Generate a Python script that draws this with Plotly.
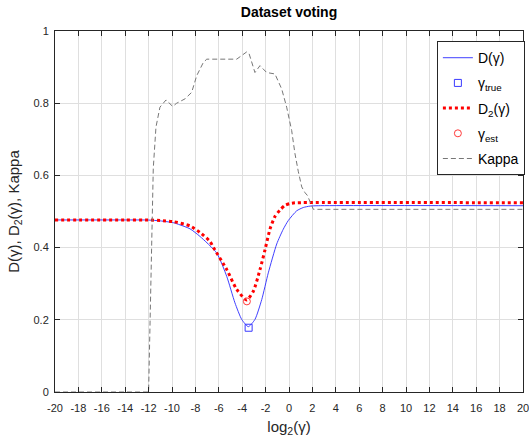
import plotly.graph_objects as go

# Kappa (gray dashed)
kappa_x = [-20, -12, -11.6, -11.37, -11.03, -10.51, -9.94, -9.6, -8.89, -8.32, -7.89, -7.32,
           -7.03, -4.47, -3.62, -3.42, -2.91, -2.48, -1.91, -1.2, -0.62, -0.2, 0.23, 0.51,
           0.8, 1.09, 1.37, 1.56, 1.86, 2.08, 20]
kappa_y = [0, 0, 0.62, 0.734, 0.789, 0.809, 0.791, 0.80, 0.812, 0.83, 0.876, 0.913,
           0.922, 0.922, 0.942, 0.938, 0.885, 0.904, 0.885, 0.881, 0.839, 0.789, 0.724, 0.66,
           0.61, 0.568, 0.552, 0.545, 0.523, 0.506, 0.506]

# D(gamma) (blue solid)
d_x = [-20, -14, -12, -11, -9.89, -9.32, -8.46, -7.61, -6.18, -5.32, -4.62, -4.04, -3.48,
       -2.91, -2.33, -1.77, -1.05, -0.49, -0.06, 0.66, 1.22, 1.8, 2.5, 20]
d_y = [0.4766, 0.4766, 0.4763, 0.474, 0.469, 0.463, 0.452, 0.431, 0.385, 0.320, 0.247, 0.201, 0.181,
       0.201, 0.256, 0.330, 0.410, 0.451, 0.475, 0.502, 0.511, 0.515, 0.516, 0.516]

# D2(gamma) (red dotted)
d2_x = [-20, -14, -12, -11, -9.89, -8.46, -7.61, -6.75, -6.47, -5.32, -4.47, -3.62, -3.05,
        -2.48, -2.05, -1.62, -1.2, -0.77, -0.34, 0.09, 0.5, 20]
d2_y = [0.4766, 0.4766, 0.4765, 0.475, 0.472, 0.460, 0.442, 0.417, 0.401, 0.339, 0.284, 0.255, 0.279,
        0.339, 0.394, 0.452, 0.486, 0.504, 0.517, 0.522, 0.524, 0.524]

gamma_true = [-3.45]
gamma_true_val = [0.178]
gamma_est = [-3.6]
gamma_est_val = [0.251]

x_ticks = list(range(-20, 21, 2))
x_tick_labels = [str(v) for v in x_ticks]
y_ticks = [0, 0.2, 0.4, 0.6, 0.8, 1]
y_tick_labels = ["0", "0.2", "0.4", "0.6", "0.8", "1"]

fig = go.Figure()
fig.add_trace(go.Scatter(x=d_x, y=d_y, mode="lines", name="D(γ)", legendgroup="a",
                         line=dict(color="#2a2aff", width=0.9, shape="spline", smoothing=0.6)))
fig.add_trace(go.Scatter(x=gamma_true, y=gamma_true_val, mode="markers", name="γ<sub>true</sub>",
                         legendgroup="b",
                         marker=dict(symbol="square-open", size=7, color="#3a3aff", line=dict(width=1))))
fig.add_trace(go.Scatter(x=d2_x, y=d2_y, mode="lines", name="D<sub>2</sub>(γ)", legendgroup="c",
                         line=dict(color="red", width=3, dash="dot", shape="spline", smoothing=0.6)))
fig.add_trace(go.Scatter(x=gamma_est, y=gamma_est_val, mode="markers", name="γ<sub>est</sub>",
                         legendgroup="d",
                         marker=dict(symbol="circle-open", size=7, color="#ff3a3a", line=dict(width=1))))
fig.add_trace(go.Scatter(x=kappa_x, y=kappa_y, mode="lines", name="Kappa", legendgroup="e",
                         line=dict(color="#777777", width=1, dash="5px,3px")))

axis_common = dict(showline=True, linecolor="#262626", linewidth=1, mirror="ticks",
                   ticks="inside", ticklen=5, tickcolor="#262626",
                   showgrid=True, gridcolor="#dfdfdf", gridwidth=1, zeroline=False,
                   tickfont=dict(family="Liberation Sans, Arial", size=11, color="#262626"))

fig.update_layout(
    width=529, height=445,
    margin=dict(l=55, r=6, t=31, b=53, autoexpand=False),
    paper_bgcolor="white", plot_bgcolor="white",
    title=dict(text="<b>Dataset voting</b>", x=(55 + 523) / 2 / 529, xanchor="center",
               y=1 - 12 / 445, yanchor="middle",
               font=dict(family="Liberation Sans, Arial", size=14, color="black")),
    xaxis=dict(range=[-20, 20], tickvals=x_ticks, ticktext=x_tick_labels,
               ticklabelstandoff=6, ticklabeloverflow="allow", **axis_common,
               title=dict(text="log<sub>2</sub>(γ)", standoff=8,
                          font=dict(family="Liberation Sans, Arial", size=15, color="#262626"))),
    yaxis=dict(range=[0, 1], tickvals=y_ticks, ticktext=y_tick_labels,
               ticklabelstandoff=3, **axis_common,
               title=dict(text="D(γ), D<sub>2</sub>(γ), Kappa", standoff=10,
                          font=dict(family="Liberation Sans, Arial", size=15, color="#262626"))),
    legend=dict(x=0.816, y=0.972, xanchor="left", yanchor="top",
                bgcolor="white", bordercolor="#262626", borderwidth=1,
                font=dict(family="Liberation Sans, Arial", size=14, color="black"),
                itemwidth=30, tracegroupgap=4),
    showlegend=True,
)

fig.write_html("out.html")
